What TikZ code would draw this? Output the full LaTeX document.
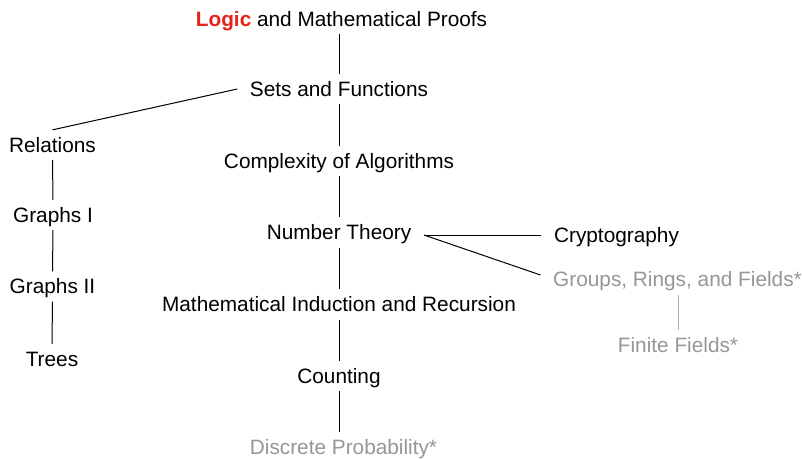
\documentclass[tikz,border=0pt]{standalone}
\usepackage{fontspec}
\setmainfont{Liberation Sans}
\usepackage{tikz}
\usetikzlibrary{calc}
\usepackage{xcolor}
\definecolor{logicred}{RGB}{228,36,26}
\definecolor{optgray}{RGB}{150,150,150}
\definecolor{optline}{RGB}{175,175,175}
\tikzset{
  topic/.style={font=\fontsize{20.8}{24}\selectfont, text height=14.9pt, text depth=0pt,
    inner xsep=12.5pt, inner ysep=7.5pt},
  optional/.style={topic, text=optgray},
  link/.style={draw=black, line width=1pt},
  optlink/.style={draw=optline, line width=1pt}
}

\begin{document}
\begin{tikzpicture}[x=1pt, y=-1pt]
\useasboundingbox (0,0) rectangle (802,458);
% main column
\node[topic] (logic) at (341.5,19.3) {\textbf{\textcolor{logicred}{Logic}} and Mathematical Proofs};
\node[topic] (sets) at (339,89) {Sets and Functions};
\node[topic] (cplx) at (339,161) {Complexity of Algorithms};
\node[topic] (nt) at (339,232.5) {Number Theory};
\node[topic] (ind) at (339,304.5) {Mathematical Induction and Recursion};
\node[topic] (count) at (339,376) {Counting};
\node[optional] (dp) at (343.5,447.5) {Discrete Probability*};
% left column
\node[topic] (rel) at (52.5,145) {Relations};
\node[topic] (gr1) at (53,215) {Graphs I};
\node[topic] (gr2) at (52.5,286.5) {Graphs II};
\node[topic] (trees) at (52,359) {Trees};
% right branch
\node[topic] (crypto) at (616.5,235) {Cryptography};
\node[optional] (grf) at (677.5,279.5) {Groups, Rings, and Fields*};
\node[optional] (ff) at (678,345.5) {Finite Fields*};

\draw[link] (sets.north |- logic.south) -- (sets.north);
\draw[link] (sets) -- (cplx);
\draw[link] (cplx) -- (nt);
\draw[link] (nt) -- (ind);
\draw[link] (ind) -- (count);
\draw[link] (count.south) -- (count.south |- dp.north);
\draw[link] (sets.west) -- (rel.north);
\draw[link] (rel) -- (gr1);
\draw[link] (gr1) -- (gr2);
\draw[link] (gr2) -- (trees);
\draw[link] ([yshift=-2.5pt]nt.east) -- ([yshift=-2.5pt]nt.east -| crypto.west);
\draw[link] ([yshift=-2.5pt]nt.east) -- ([yshift=4.5pt]grf.west);
\draw[optlink] (grf.south -| ff.north) -- (ff.north);
\end{tikzpicture}
\end{document}
